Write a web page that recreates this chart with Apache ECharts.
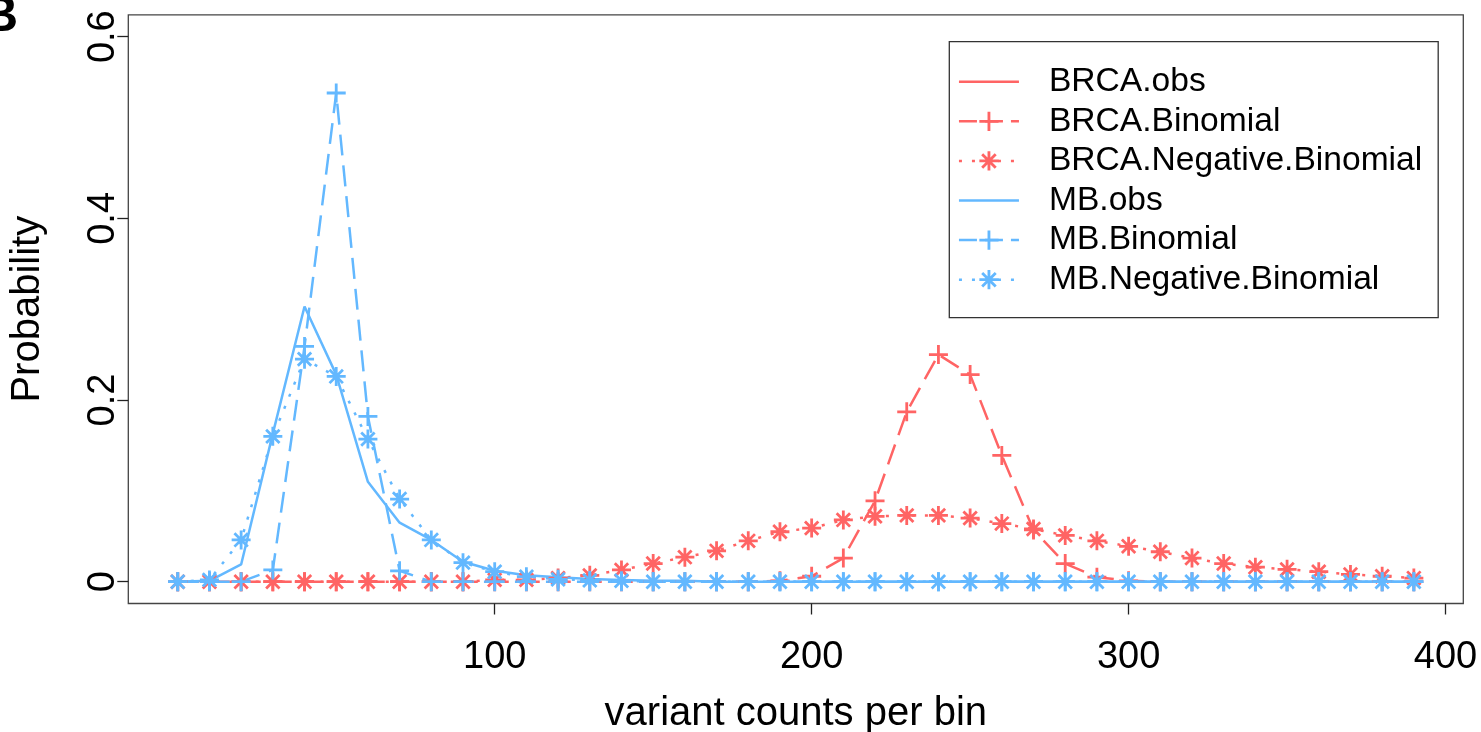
<!DOCTYPE html>
<html>
<head>
<meta charset="utf-8">
<title>variant counts per bin</title>
<script src="https://cdn.jsdelivr.net/npm/echarts@6/dist/echarts.min.js"></script>
<style>
  html, body { margin: 0; padding: 0; background: #fff; }
  #chart { width: 1481px; height: 732px; }
</style>
</head>
<body>
<div id="chart"></div>
<script>
  // bins (variant counts per bin)
  var xBins = [0, 10, 20, 30, 40, 50, 60, 70, 80, 90,
    100, 110, 120, 130, 140, 150, 160, 170, 180, 190,
    200, 210, 220, 230, 240, 250, 260, 270, 280, 290,
    300, 310, 320, 330, 340, 350, 360, 370, 380, 390];

  // BRCA.obs is not drawn in the figure (only in the legend)
  var brcaObs = [];
  var brcaBinom = [0, 0, 0, 0, 0, 0, 0, 0, 0, 0,
    0, 0, 0, 0, 0, 0, 0, 0, 0, 0.001,
    0.006, 0.026, 0.089, 0.187, 0.250, 0.228, 0.139, 0.057, 0.020, 0.005,
    0.001, 0, 0, 0, 0, 0, 0, 0, 0, 0];
  var brcaNegBinom = [0, 0, 0, 0, 0, 0, 0, 0, 0, 0,
    0.002, 0.002, 0.004, 0.007, 0.013, 0.020, 0.027, 0.034, 0.045, 0.055,
    0.059, 0.068, 0.072, 0.073, 0.073, 0.070, 0.064, 0.058, 0.051, 0.045,
    0.039, 0.033, 0.026, 0.020, 0.016, 0.0136, 0.011, 0.008, 0.006, 0.004];

  var mbObs = [0, 0.001, 0.019, 0.163, 0.303, 0.228, 0.110, 0.065, 0.046, 0.022,
    0.012, 0.007, 0.005, 0.003, 0.002, 0.001, 0.001, 0, 0, 0,
    0, 0, 0, 0, 0, 0, 0, 0, 0, 0,
    0, 0, 0, 0, 0, 0, 0, 0, 0, 0];
  var mbBinom = [0, 0, 0, 0.013, 0.259, 0.538, 0.182, 0.012, 0, 0,
    0, 0, 0, 0, 0, 0, 0, 0, 0, 0,
    0, 0, 0, 0, 0, 0, 0, 0, 0, 0,
    0, 0, 0, 0, 0, 0, 0, 0, 0, 0];
  var mbNegBinom = [0, 0.002, 0.046, 0.160, 0.245, 0.226, 0.157, 0.091, 0.046, 0.021,
    0.011, 0.0055, 0.0026, 0.0015, 0.001, 0, 0, 0, 0, 0,
    0, 0, 0, 0, 0, 0, 0, 0, 0, 0,
    0, 0, 0, 0, 0, 0, 0, 0, 0, 0];

  var xTicks = [100, 200, 300, 400];
  var yTicks = [0, 0.2, 0.4, 0.6];

  var RED = '#FF6464';
  var BLUE = '#63B8FF';
  var FONT = 'Liberation Sans';

  // R pch=3 and pch=8
  var PLUS = 'path://M-1.4,-9.5L1.4,-9.5L1.4,-1.4L9.5,-1.4L9.5,1.4L1.4,1.4L1.4,9.5L-1.4,9.5L-1.4,1.4L-9.5,1.4L-9.5,-1.4L-1.4,-1.4Z';
  var STAR = 'path://M-1.4,-9.5L1.4,-9.5L1.4,9.5L-1.4,9.5Z' +
    'M-9.5,-1.4L9.5,-1.4L9.5,1.4L-9.5,1.4Z' +
    'M-5.71,-7.69L7.69,5.71L5.71,7.69L-7.69,-5.71Z' +
    'M-7.69,5.71L5.71,-7.69L7.69,-5.71L-5.71,7.69Z';

  function pairs(ys) {
    var out = [];
    for (var i = 0; i < ys.length; i++) {
      out.push([xBins[i], ys[i]]);
    }
    return out;
  }

  function lineSeries(name, ys, color, kind) {
    var s = {
      name: name,
      type: 'line',
      data: pairs(ys),
      color: color,
      itemStyle: { color: color },
      lineStyle: { color: color, width: 2.5 },
      showSymbol: kind !== 'obs',
      symbol: 'none',
      symbolSize: 19,
      z: 2
    };
    if (kind === 'binom') {
      s.symbol = PLUS;
      s.lineStyle.type = [21, 10];
    } else if (kind === 'negbinom') {
      s.symbol = STAR;
      s.lineStyle.type = [3, 10];
    }
    return s;
  }

  // legend entry; obs lines get no marker
  function legendItem(name, kind) {
    var it = { name: name };
    if (kind === 'obs') {
      it.itemStyle = { color: 'rgba(0,0,0,0)', opacity: 0, borderWidth: 0 };
    } else if (kind === 'binom') {
      it.lineStyle = { type: [18, 8] };
    }
    return it;
  }

  var myEcharts = echarts.init(document.getElementById('chart'), null, { renderer: 'canvas' });

  var options = {
    animation: false,
    backgroundColor: '#fff',
    textStyle: { fontFamily: FONT, color: '#000' },
    grid: {
      left: 128.3,
      right: 17.7,
      top: 14.9,
      bottom: 128.5,
      show: true,
      borderColor: '#444',
      borderWidth: 1.3,
      containLabel: false,
      outerBoundsMode: 'none'
    },
    legend: {
      orient: 'vertical',
      left: 949.3,
      top: 41.7,
      padding: [23, 16, 21, 8.4],
      borderColor: '#333',
      borderWidth: 1.3,
      itemWidth: 60,
      itemHeight: 24,
      itemGap: 5.6,
      selectedMode: false,
      lineStyle: { width: 2.5 },
      textStyle: { fontFamily: FONT, fontSize: 33.6, lineHeight: 34, color: '#000', padding: [0, 0, 0, 25] },
      data: [
        legendItem('BRCA.obs', 'obs'),
        legendItem('BRCA.Binomial', 'binom'),
        legendItem('BRCA.Negative.Binomial', 'negbinom'),
        legendItem('MB.obs', 'obs'),
        legendItem('MB.Binomial', 'binom'),
        legendItem('MB.Negative.Binomial', 'negbinom')
      ]
    },
    xAxis: {
      type: 'value',
      min: -15.6,
      max: 405.6,
      name: 'variant counts per bin',
      nameLocation: 'middle',
      nameGap: 90,
      nameTextStyle: { fontFamily: FONT, fontSize: 40, color: '#000' },
      axisLine: { show: false, onZero: false },
      splitLine: { show: false },
      axisTick: {
        show: true,
        customValues: xTicks,
        length: 11,
        lineStyle: { color: '#222', width: 1.3 }
      },
      axisLabel: {
        customValues: xTicks,
        margin: 35,
        fontFamily: FONT,
        fontSize: 38,
        color: '#000'
      }
    },
    yAxis: {
      type: 'value',
      min: -0.024,
      max: 0.624,
      name: 'Probability',
      nameLocation: 'middle',
      nameRotate: 90,
      nameGap: 80,
      nameTextStyle: { fontFamily: FONT, fontSize: 40, color: '#000' },
      axisLine: { show: false, onZero: false },
      splitLine: { show: false },
      axisTick: {
        show: true,
        customValues: yTicks,
        length: 11,
        lineStyle: { color: '#222', width: 1.3 }
      },
      axisLabel: {
        customValues: yTicks,
        rotate: 90,
        margin: 6,
        fontFamily: FONT,
        fontSize: 38,
        color: '#000'
      }
    },
    graphic: [{
      type: 'text',
      left: -18,
      top: -8,
      style: { text: 'B', font: 'bold 50px "Liberation Sans"', fill: '#000' }
    }],
    series: [
      lineSeries('BRCA.obs', brcaObs, RED, 'obs'),
      lineSeries('BRCA.Binomial', brcaBinom, RED, 'binom'),
      lineSeries('BRCA.Negative.Binomial', brcaNegBinom, RED, 'negbinom'),
      lineSeries('MB.obs', mbObs, BLUE, 'obs'),
      lineSeries('MB.Binomial', mbBinom, BLUE, 'binom'),
      lineSeries('MB.Negative.Binomial', mbNegBinom, BLUE, 'negbinom')
    ]
  };
  myEcharts.setOption(options, true);
</script>
</body>
</html>
